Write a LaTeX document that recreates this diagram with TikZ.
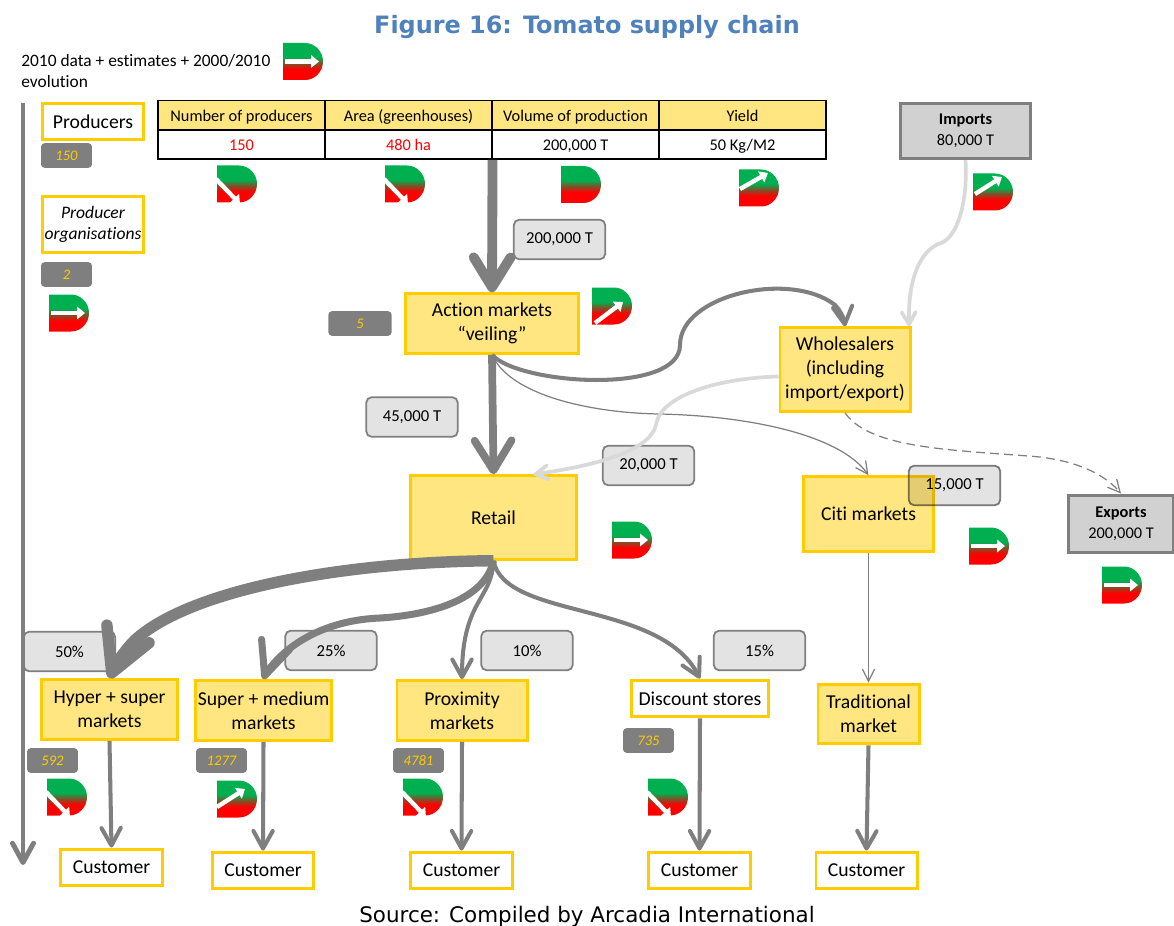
\documentclass[tikz,border=0pt]{standalone}
\usepackage{fontspec}
\setmainfont{Carlito}[Ligatures=NoCommon]
\newfontfamily\headfont{DejaVu Sans}
\usetikzlibrary{arrows.meta}
\definecolor{boxfill}{HTML}{FFE680}
\definecolor{boxline}{HTML}{FFCC00}
\definecolor{flowgrey}{HTML}{7F7F7F}
\definecolor{paleflow}{HTML}{D9D9D9}
\definecolor{titleblue}{HTML}{4F81BD}
\definecolor{evogreen}{HTML}{00B050}
\definecolor{evomid}{HTML}{7F5028}
\pgfdeclareverticalshading{evoshading}{100bp}{color(0bp)=(red); color(39.5bp)=(red); color(47.5bp)=(evomid); color(55.5bp)=(evogreen); color(100bp)=(evogreen)}
\tikzset{
	every node/.style={align=center,inner sep=0pt},
	base/.style={font=\fontsize{11.2}{13.6}\selectfont,line width=1.7pt},
	yellowbox/.style={base,rectangle,draw=boxline,fill=boxfill},
	whitebox/.style={base,rectangle,draw=boxline,fill=white},
	greybox/.style={rectangle,draw=flowgrey,fill=black!18,line width=1.7pt,font=\fontsize{9.3}{12}\selectfont},
	tonnes/.style={rectangle,rounded corners=3pt,draw=flowgrey,fill=black!11,line width=1pt,minimum width=52pt,minimum height=22.5pt,font=\fontsize{9.5}{11}\selectfont},
	countbox/.style={rectangle,rounded corners=2pt,fill=flowgrey,text=boxline,minimum height=14pt,font=\fontsize{8.3}{10}\itshape\selectfont},
	headcell/.style={rectangle,draw=black,fill=boxfill,line width=1pt,minimum width=94.7pt,minimum height=16.5pt,text height=.9em,text depth=.2em,font=\fontsize{9.3}{10}\selectfont},
	valcell/.style={rectangle,draw=black,fill=white,line width=1pt,minimum width=94.7pt,minimum height=16.5pt,text height=.9em,text depth=.2em,font=\fontsize{9.3}{10}\selectfont},
	flow/.style={draw=flowgrey,line width=2.3pt,-{Straight Barb[length=10pt,width=11pt,round]}},
	thinflow/.style={draw=flowgrey,line width=.7pt,-{Straight Barb[length=7pt,width=7pt]}},
	paleline/.style={draw=paleflow,line width=2.1pt,-{Straight Barb[length=7pt,width=8pt,round]}},
	evoshape/.style={shading=evoshading,draw=none},
	evotip/.style={draw=white,line width=2.5pt,-{Triangle[length=4.5pt,width=7pt]}},
	pics/evoblank/.style={code={
		\shade[evoshape] (-20,-18.5) -- (2,-18.5) .. controls (12,-18.5) and (20,-10) .. (20,0) .. controls (20,10) and (12,18.5) .. (2,18.5) -- (-20,18.5) -- cycle;
	}},
	pics/evo/.style 2 args={code={
		\pic {evoblank};
		\draw[evotip] (#1) -- (#2);
	}}
}
\begin{document}
\begin{tikzpicture}[x=0.02cm,y=-0.02cm]
	\useasboundingbox (0,0) rectangle (1174,926);
	
	\node[font=\headfont\bfseries\fontsize{13.6}{15}\selectfont,text=titleblue] (title) at (587,27) {Figure 16: Tomato supply chain};
	\node[font=\headfont\fontsize{12.2}{14}\selectfont] (source) at (587,917) {Source: Compiled by Arcadia International};
	\node[font=\fontsize{9.9}{11.9}\selectfont,align=left,anchor=north west] (legend) at (21,54) {2010 data + estimates + 2000/2010\\evolution};
	
	% table
	\node[headcell] (head1) at (241.5,115) {Number of producers};
	\node[headcell] (head2) at (408.5,115) {Area (greenhouses)};
	\node[headcell] (head3) at (575.5,115) {Volume of production};
	\node[headcell] (head4) at (742.5,115) {Yield};
	\node[valcell,text=red] (val1) at (241.5,144.5) {150};
	\node[valcell,text=red] (val2) at (408.5,144.5) {480 ha};
	\node[valcell] (val3) at (575.5,144.5) {200,000 T};
	\node[valcell] (val4) at (742.5,144.5) {50 Kg/M2};
	
	% flow labels
	\node[tonnes] (lab200) at (559.5,239.5) {200,000 T};
	\node[tonnes] (lab45) at (412,417) {45,000 T};
	\node[tonnes] (lab20) at (648.5,465.5) {20,000 T};
	\node[tonnes] (lab50) at (69.5,651.5) {50\%};
	\node[tonnes] (lab25) at (331,650.5) {25\%};
	\node[tonnes] (lab10) at (527,650.5) {10\%};
	\node[tonnes] (lab15) at (759.5,650.5) {15\%};
	
	% nodes
	\node[whitebox,minimum width=58pt,minimum height=21pt] (producers) at (93,121.5) {Producers};
	\node[whitebox,minimum width=58pt,minimum height=31.5pt,font=\fontsize{10}{11.9}\itshape\selectfont] (orgs) at (93,224.5) {Producer\\organisations};
	\node[yellowbox,minimum width=98pt,minimum height=34pt] (action) at (492,323.5) {Action markets\\“veiling”};
	\node[yellowbox,minimum width=94pt,minimum height=47.5pt] (retail) at (493.5,517.5) {Retail};
	\node[yellowbox,minimum width=74pt,minimum height=47.5pt] (whole) at (845,369.5) {Wholesalers\\(including\\import/export)};
	\node[yellowbox,minimum width=73.5pt,minimum height=42.5pt] (citi) at (868.5,514) {Citi markets};
	\node[yellowbox,minimum width=77pt,minimum height=34pt] (hyper) at (109.5,709.5) {Hyper + super\\markets};
	\node[yellowbox,minimum width=77pt,minimum height=34pt] (super) at (263.5,710.5) {Super + medium\\markets};
	\node[yellowbox,minimum width=74pt,minimum height=34pt] (prox) at (462,710.5) {Proximity\\markets};
	\node[whitebox,minimum width=78.5pt,minimum height=21pt] (disc) at (700,698.5) {Discount stores};
	\node[yellowbox,minimum width=57.5pt,minimum height=34pt] (trad) at (868.5,714) {Traditional\\market};
	\node[whitebox,minimum width=57.5pt,minimum height=21pt] (cust1) at (111.5,867.5) {Customer};
	\node[whitebox,minimum width=57.5pt,minimum height=21pt] (cust2) at (263,870.5) {Customer};
	\node[whitebox,minimum width=57.5pt,minimum height=21pt] (cust3) at (461.5,870.5) {Customer};
	\node[whitebox,minimum width=57.5pt,minimum height=21pt] (cust4) at (699.5,870.5) {Customer};
	\node[whitebox,minimum width=57.5pt,minimum height=21pt] (cust5) at (866.5,870.5) {Customer};
	\node[greybox,minimum width=73.5pt,minimum height=31.5pt] (imports) at (965.5,131) {\textbf{Imports}\\80,000 T};
	\node[greybox,minimum width=59.5pt,minimum height=33pt] (exports) at (1121,524) {\textbf{Exports}\\200,000 T};
	
	\node[tonnes,blend mode=multiply] (lab15t) at (954.5,485.5) {15,000 T};
	
	% counts
	\node[countbox,minimum width=29pt] (n150) at (66.5,155.5) {150};
	\node[countbox,minimum width=29pt] (n2) at (66.5,274.5) {2};
	\node[countbox,minimum width=36pt] (n5) at (360,323.5) {5};
	\node[countbox,minimum width=29pt] (n592) at (52.5,760.5) {592};
	\node[countbox,minimum width=29pt] (n1277) at (221.5,760.5) {1277};
	\node[countbox,minimum width=29pt] (n4781) at (418.5,760.5) {4781};
	\node[countbox,minimum width=29pt] (n735) at (648.5,740.5) {735};
	
	% evolution marks
	\pic (evolegend) at (303,61.5) {evo={-18,0}{16,0}};
	\pic (evo1) at (237,184) {evo={-21,-5}{3,20}};
	\pic (evo2) at (405,184) {evo={-21,-5}{3,20}};
	\pic (evo3) at (581,184.5) {evoblank};
	\pic (evo4) at (759,188) {evo={-19,1}{9,-15}};
	\pic (evoimp) at (993,192) {evo={-18,2}{9,-15}};
	\pic (evoact) at (612,306) {evo={-17,17}{11,-4}};
	\pic (evoret) at (632,540) {evo={-18,0}{16,0}};
	\pic (evociti) at (989,546) {evo={-18,0}{16,0}};
	\pic (evoexp) at (1122,585) {evo={-18,0}{16,0}};
	\pic (evoorg) at (69,313) {evo={-18,0}{16,0}};
	\pic (evohyp) at (67,797) {evo={-21,-5}{3,20}};
	\pic (evosup) at (237,799) {evo={-20,8}{8,-10}};
	\pic (evopro) at (423,797) {evo={-21,-5}{3,20}};
	\pic (evodis) at (668,797) {evo={-21,-5}{3,20}};
	
	% chain arrow on the left
	\coordinate (chaintop) at (23,103);
	\coordinate (chainend) at (23,865);
	\draw[flow,line width=2.8pt,-{Straight Barb[length=11pt,width=12pt,round]}] (chaintop) -- (chainend);
	
	\draw[flow,line width=5.6pt,-{Straight Barb[length=17pt,width=21pt,round]}] (val2.south east) -- (action.north);
	\draw[flow,line width=4.4pt,-{Straight Barb[length=17pt,width=21pt,round]}] (action.south) -- (retail.north);
	\draw[flow] (action.south) .. controls (520,385) and (680,395) .. (680,345) .. controls (680,295) and (790,270) .. (835,305) .. controls (840,310) and (844,318) .. (whole.north);
	\draw[thinflow] (action.south) .. controls (510,395) and (590,413) .. (660,414) .. controls (750,416) and (840,435) .. (citi.north);
	\draw[paleline] (imports.south) .. controls (968,200) and (958,240) .. (938,244) .. controls (915,255) and (908,290) .. (whole.34);
	\draw[paleline] (whole.186) .. controls (720,378) and (660,395) .. (656,425) .. controls (650,450) and (600,465) .. (retail.47);
	\draw[thinflow,dash pattern=on 5pt off 3pt] (whole.south) .. controls (870,450) and (960,450) .. (1040,457) .. controls (1080,462) and (1105,475) .. (exports.north);
	
	\draw[flow,line width=6.5pt,-{Straight Barb[length=24pt,width=26pt,round]}] (retail.south) .. controls (340,562) and (190,590) .. (135,640) .. controls (125,650) and (115,665) .. (hyper.north);
	\draw[flow,line width=4pt,-{Straight Barb[length=19pt,width=17pt,round]}] (retail.south) .. controls (485,600) and (430,615) .. (380,618) .. controls (330,620) and (295,640) .. (275,662) .. controls (270,668) and (266,672) .. (super.north);
	\draw[flow] (retail.south) .. controls (492,600) and (462,600) .. (prox.north);
	\draw[flow] (retail.south) .. controls (505,620) and (660,600) .. (disc.north);
	
	\draw[thinflow] (citi.south) -- (trad.north);
	\draw[flow] (hyper.south) -- (cust1.north);
	\draw[flow] (super.south) -- (cust2.north);
	\draw[flow] (prox.south) -- (cust3.north);
	\draw[flow] (disc.south) -- (cust4.north);
	\draw[flow] (trad.south) -- (cust5.north);
\end{tikzpicture}
\end{document}
